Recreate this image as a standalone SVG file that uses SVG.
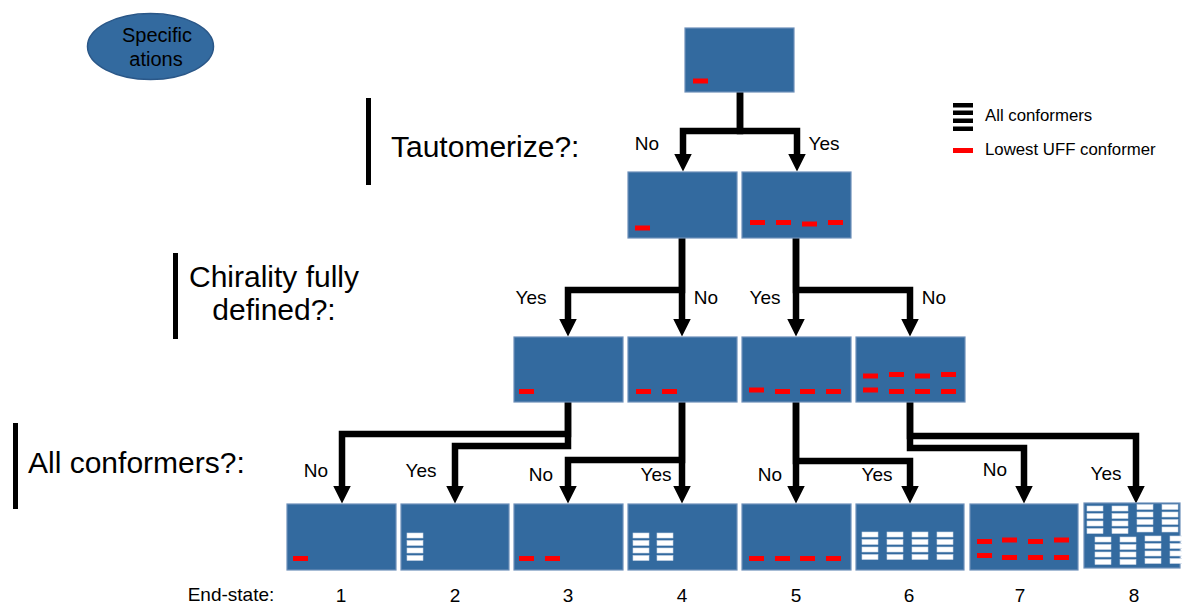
<svg xmlns="http://www.w3.org/2000/svg" width="1182" height="605" viewBox="0 0 1182 605">
<style>
.box{fill:#336a9f;stroke:#6d8fb9;stroke-width:1.2}
.r{fill:#ff0000}
.w{fill:#ffffff;stroke:#c9d6e6;stroke-width:0.6}
.k{fill:#000000}
.t{font-family:"Liberation Sans",Arial,sans-serif;fill:#000000}
.lbl{font-size:19px}
.big{font-size:30px}
.leg{font-size:16.8px}
.con{fill:none;stroke:#000000;stroke-width:6.5;stroke-linejoin:miter}
</style>
<defs>
<marker id="ah" viewBox="0 0 18 18" refX="0.5" refY="9" markerWidth="18" markerHeight="18" markerUnits="userSpaceOnUse" orient="auto">
<path d="M0 0 L18 9 L0 18 z" fill="#000000"/>
</marker>
<g id="wb4">
<rect class="w" x="0" y="0" width="16" height="5"/>
<rect class="w" x="0" y="7.5" width="16" height="5"/>
<rect class="w" x="0" y="15" width="16" height="5"/>
<rect class="w" x="0" y="22.5" width="16" height="5"/>
</g>
</defs>
<rect width="1182" height="605" fill="#ffffff"/>

<g id="specs">
<ellipse cx="150.5" cy="46.5" rx="63" ry="33" fill="#336a9f" stroke="#2a5788" stroke-width="1.5"/>
<text class="t" x="157" y="42" font-size="20" text-anchor="middle">Specific</text>
<text class="t" x="156" y="66" font-size="20" text-anchor="middle">ations</text>
</g>

<g id="legend">
<rect class="k" x="953" y="103" width="20" height="4.5"/>
<rect class="k" x="953" y="110.5" width="20" height="4.5"/>
<rect class="k" x="953" y="118.5" width="20" height="4.5"/>
<rect class="k" x="953" y="126.5" width="20" height="4.5"/>
<text class="t leg" x="985" y="121">All conformers</text>
<rect class="r" x="953" y="148" width="20" height="5"/>
<text class="t leg" x="985" y="155">Lowest UFF conformer</text>
</g>

<g id="q1">
<rect class="k" x="366" y="98" width="5" height="87"/>
<text class="t big" x="391" y="157">Tautomerize?:</text>
</g>
<g id="q2">
<rect class="k" x="173" y="253" width="5" height="86"/>
<text class="t big" x="274" y="287" text-anchor="middle">Chirality fully</text>
<text class="t big" x="274" y="320" text-anchor="middle">defined?:</text>
</g>
<g id="q3">
<rect class="k" x="13" y="423" width="5" height="86"/>
<text class="t big" x="28" y="473">All conformers?:</text>
</g>

<g id="connectors">
<path class="con" d="M740 92 V131 H683 V154" marker-end="url(#ah)"/>
<path class="con" d="M740 92 V131 H797 V154" marker-end="url(#ah)"/>
<path class="con" d="M682 238 V319" marker-end="url(#ah)"/>
<path class="con" d="M682 238 V290 H568 V319" marker-end="url(#ah)"/>
<path class="con" d="M796 238 V319" marker-end="url(#ah)"/>
<path class="con" d="M796 238 V290 H910 V319" marker-end="url(#ah)"/>
<path class="con" d="M568 402 V434 H342 V486" marker-end="url(#ah)"/>
<path class="con" d="M568 402 V446 H455 V486" marker-end="url(#ah)"/>
<path class="con" d="M682 402 V486" marker-end="url(#ah)"/>
<path class="con" d="M682 402 V460 H568 V486" marker-end="url(#ah)"/>
<path class="con" d="M796 402 V486" marker-end="url(#ah)"/>
<path class="con" d="M796 402 V461 H910 V486" marker-end="url(#ah)"/>
<path class="con" d="M910 402 V436 H1136 V486" marker-end="url(#ah)"/>
<path class="con" d="M910 402 V448 H1024 V486" marker-end="url(#ah)"/>
</g>

<g id="edge-labels">
<text class="t lbl" x="647" y="150" text-anchor="middle">No</text>
<text class="t lbl" x="824" y="150" text-anchor="middle">Yes</text>
<text class="t lbl" x="531" y="304" text-anchor="middle">Yes</text>
<text class="t lbl" x="706" y="304" text-anchor="middle">No</text>
<text class="t lbl" x="765" y="304" text-anchor="middle">Yes</text>
<text class="t lbl" x="934" y="304" text-anchor="middle">No</text>
<text class="t lbl" x="316" y="477" text-anchor="middle">No</text>
<text class="t lbl" x="421" y="477" text-anchor="middle">Yes</text>
<text class="t lbl" x="541" y="481" text-anchor="middle">No</text>
<text class="t lbl" x="656" y="481" text-anchor="middle">Yes</text>
<text class="t lbl" x="770" y="481" text-anchor="middle">No</text>
<text class="t lbl" x="877" y="481" text-anchor="middle">Yes</text>
<text class="t lbl" x="995" y="476" text-anchor="middle">No</text>
<text class="t lbl" x="1106" y="480" text-anchor="middle">Yes</text>
</g>

<g id="n-top">
<rect class="box" x="685" y="28" width="109" height="64"/>
<rect class="r" x="693" y="78.5" width="15" height="5"/>
</g>

<g id="n-l2a">
<rect class="box" x="628" y="172" width="109" height="66"/>
<rect class="r" x="635" y="225.5" width="15" height="5"/>
</g>
<g id="n-l2b">
<rect class="box" x="742" y="172" width="109" height="66"/>
<rect class="r" x="750" y="220" width="15" height="5"/>
<rect class="r" x="776" y="220" width="15" height="5"/>
<rect class="r" x="802" y="221.5" width="15" height="5"/>
<rect class="r" x="828" y="220" width="15" height="5"/>
</g>

<g id="n-l3a">
<rect class="box" x="514" y="337" width="109" height="65"/>
<rect class="r" x="519" y="389" width="15" height="5"/>
</g>
<g id="n-l3b">
<rect class="box" x="628" y="337" width="109" height="65"/>
<rect class="r" x="636" y="389" width="15" height="5"/>
<rect class="r" x="662" y="389" width="15" height="5"/>
</g>
<g id="n-l3c">
<rect class="box" x="742" y="337" width="109" height="65"/>
<rect class="r" x="749" y="387.5" width="15" height="5"/>
<rect class="r" x="775" y="389" width="15" height="5"/>
<rect class="r" x="800" y="389" width="15" height="5"/>
<rect class="r" x="826" y="389" width="15" height="5"/>
</g>
<g id="n-l3d">
<rect class="box" x="856" y="337" width="109" height="65"/>
<rect class="r" x="863" y="373.5" width="15" height="5"/>
<rect class="r" x="889" y="372" width="15" height="5"/>
<rect class="r" x="915" y="373.5" width="15" height="5"/>
<rect class="r" x="941" y="372" width="15" height="5"/>
<rect class="r" x="863" y="387.5" width="15" height="5"/>
<rect class="r" x="889" y="389" width="15" height="5"/>
<rect class="r" x="915" y="389" width="15" height="5"/>
<rect class="r" x="941" y="389" width="15" height="5"/>
</g>

<g id="end1">
<rect class="box" x="287" y="504" width="109" height="66"/>
<rect class="r" x="293" y="556" width="15" height="5"/>
</g>
<g id="end2">
<rect class="box" x="401" y="504" width="108" height="66"/>
<use href="#wb4" x="407" y="533"/>
</g>
<g id="end3">
<rect class="box" x="514" y="504" width="109" height="66"/>
<rect class="r" x="519" y="556" width="15" height="5"/>
<rect class="r" x="545" y="556" width="15" height="5"/>
</g>
<g id="end4">
<rect class="box" x="628" y="504" width="109" height="66"/>
<use href="#wb4" x="633" y="533"/>
<use href="#wb4" x="657" y="533"/>
</g>
<g id="end5">
<rect class="box" x="742" y="504" width="109" height="66"/>
<rect class="r" x="749" y="556" width="15" height="5"/>
<rect class="r" x="775" y="556" width="15" height="5"/>
<rect class="r" x="800" y="556" width="15" height="5"/>
<rect class="r" x="826" y="556" width="15" height="5"/>
</g>
<g id="end6">
<rect class="box" x="856" y="504" width="108" height="66"/>
<use href="#wb4" x="862" y="532"/>
<use href="#wb4" x="887" y="532"/>
<use href="#wb4" x="912" y="532"/>
<use href="#wb4" x="937" y="532"/>
</g>
<g id="end7">
<rect class="box" x="970" y="504" width="108" height="66"/>
<rect class="r" x="977" y="539" width="15" height="5"/>
<rect class="r" x="1002" y="537.5" width="15" height="5"/>
<rect class="r" x="1028" y="539" width="15" height="5"/>
<rect class="r" x="1054" y="537.5" width="15" height="5"/>
<rect class="r" x="977" y="553" width="15" height="5"/>
<rect class="r" x="1002" y="555" width="15" height="5"/>
<rect class="r" x="1028" y="555" width="15" height="5"/>
<rect class="r" x="1054" y="555" width="15" height="5"/>
</g>
<g id="end8">
<rect class="box" x="1084" y="503" width="96" height="65"/>
<use href="#wb4" x="1087" y="506"/>
<use href="#wb4" x="1112" y="506"/>
<use href="#wb4" x="1137" y="504.5"/>
<use href="#wb4" x="1162" y="504.5"/>
<use href="#wb4" x="1095" y="537"/>
<use href="#wb4" x="1120" y="537"/>
<use href="#wb4" x="1145" y="536"/>
<use href="#wb4" x="1170" y="536"/>
</g>

<g id="end-states">
<text class="t lbl" x="231" y="601" text-anchor="middle">End-state:</text>
<text class="t lbl" x="341" y="602" text-anchor="middle">1</text>
<text class="t lbl" x="455" y="602" text-anchor="middle">2</text>
<text class="t lbl" x="568" y="602" text-anchor="middle">3</text>
<text class="t lbl" x="682" y="602" text-anchor="middle">4</text>
<text class="t lbl" x="796" y="602" text-anchor="middle">5</text>
<text class="t lbl" x="909" y="602" text-anchor="middle">6</text>
<text class="t lbl" x="1020" y="602" text-anchor="middle">7</text>
<text class="t lbl" x="1134" y="602" text-anchor="middle">8</text>
</g>
</svg>
